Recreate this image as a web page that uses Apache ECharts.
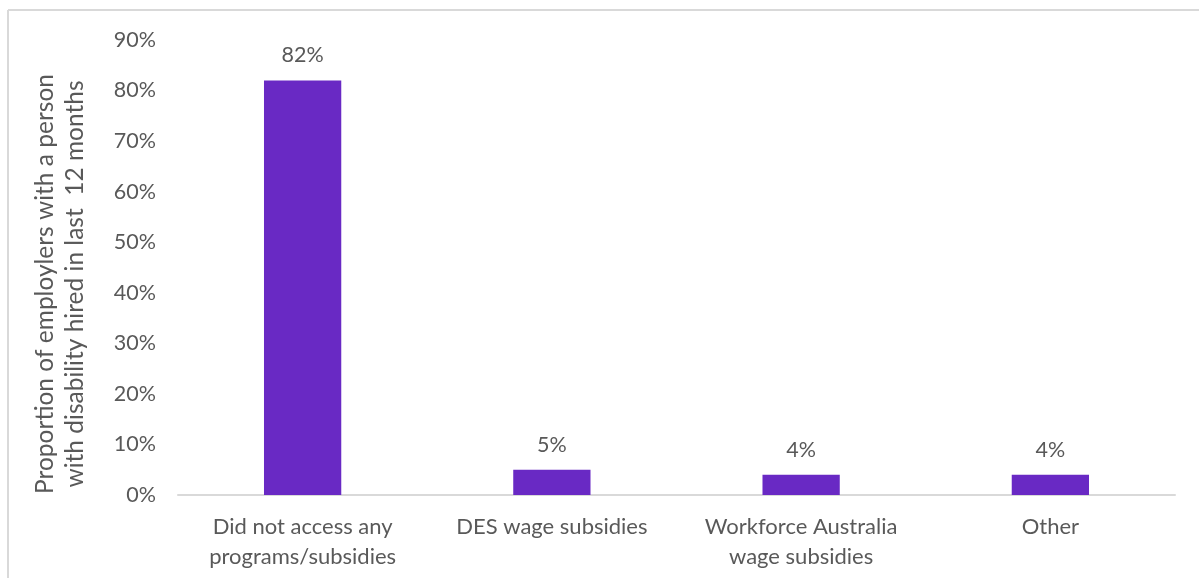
<!DOCTYPE html>
<html>
<head>
<meta charset="utf-8">
<script src="https://cdn.jsdelivr.net/npm/echarts@6/dist/echarts.min.js"></script>
<style>
  html, body { margin: 0; padding: 0; background: #ffffff; }
  #chart { width: 1199px; height: 578px; }
</style>
</head>
<body>
<div id="chart"></div>
<script>
// Programs accessed by employers who hired a person with disability
const categories = [
  'Did not access any\nprograms/subsidies',
  'DES wage subsidies',
  'Workforce Australia\nwage subsidies',
  'Other'
];
const shares = [82, 5, 4, 4];
const yTicks = { min: 0, max: 90, interval: 10 };
const yTitle = 'Proportion of employlers with a person\nwith disability hired in last  12 months';

const textColor = '#595959';
const fontFamily = 'Lato, "Open Sans", sans-serif';

const chart = echarts.init(document.getElementById('chart'), null, { renderer: 'canvas' });
chart.setOption({
  animation: false,
  backgroundColor: '#ffffff',
  grid: { left: 178, right: 24, top: 40, bottom: 83, containLabel: false },
  xAxis: {
    type: 'category',
    data: categories,
    axisTick: { show: false },
    axisLine: { lineStyle: { color: '#d9d9d9', width: 2 } },
    axisLabel: {
      color: textColor, fontFamily: fontFamily, fontSize: 22,
      lineHeight: 30, margin: 17, interval: 0
    }
  },
  yAxis: {
    type: 'value',
    min: yTicks.min, max: yTicks.max, interval: yTicks.interval,
    splitLine: { show: false },
    axisLine: { show: false },
    axisTick: { show: false },
    axisLabel: {
      color: textColor, fontFamily: fontFamily, fontSize: 21.5, margin: 22,
      formatter: v => v + '%'
    }
  },
  series: [{
    type: 'bar',
    data: shares,
    barWidth: '31%',
    itemStyle: { color: '#6929c4' },
    label: {
      show: true, position: 'top', distance: 14,
      color: textColor, fontFamily: fontFamily, fontSize: 21.5,
      formatter: p => p.value + '%'
    }
  }],
  graphic: [
    // frame lines along the top and left edges
    { type: 'line', shape: { x1: 8, y1: 10, x2: 1199, y2: 10 }, style: { stroke: '#d9d9d9', lineWidth: 2 }, silent: true },
    { type: 'line', shape: { x1: 8, y1: 10, x2: 8, y2: 578 }, style: { stroke: '#d9d9d9', lineWidth: 2 }, silent: true },
    {
      type: 'text',
      x: 60, y: 284,
      rotation: Math.PI / 2,
      style: {
        text: yTitle,
        fill: textColor,
        font: '24.5px ' + fontFamily,
        lineHeight: 30,
        align: 'center',
        verticalAlign: 'middle'
      }
    }
  ]
});
</script>
</body>
</html>
